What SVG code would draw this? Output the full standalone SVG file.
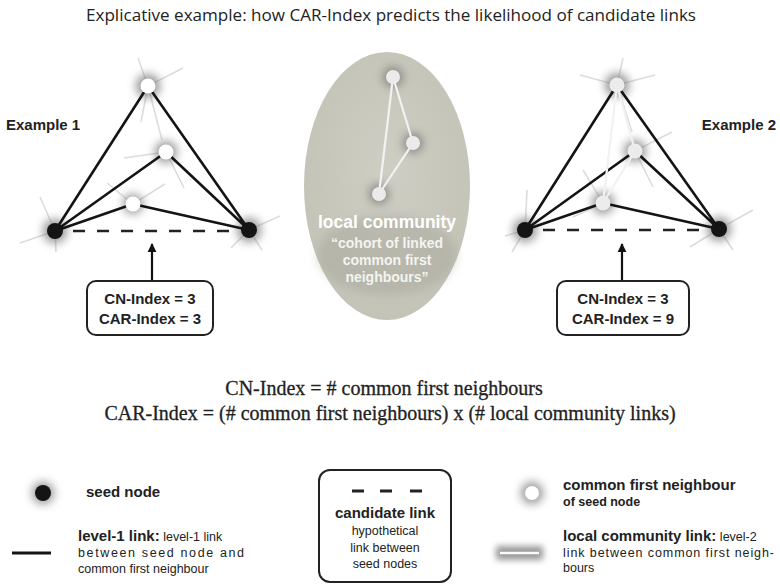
<svg xmlns="http://www.w3.org/2000/svg" width="780" height="585" viewBox="0 0 780 585">
<defs>
<filter id="blur" x="-100%" y="-100%" width="300%" height="300%"><feGaussianBlur stdDeviation="5"/></filter>
<filter id="blur2" x="-50%" y="-200%" width="200%" height="500%"><feGaussianBlur stdDeviation="3"/></filter>
<radialGradient id="ellg" cx="0.5" cy="0.45" r="0.6"><stop offset="0" stop-color="#cfcec4"/><stop offset="1" stop-color="#c3c2b6"/></radialGradient>
<marker id="arr" viewBox="0 0 10 10" refX="9" refY="5" markerWidth="4" markerHeight="5" orient="auto"><path d="M0,0 L10,5 L0,10 z" fill="#111"/></marker>
</defs>
<style>
.spoke{stroke:#dcdcdc;stroke-width:1.6;fill:none}
.l1{stroke:#141414;stroke-width:2.6;fill:none}
.l2{stroke:#f2f2f2;stroke-width:2.2;fill:none}
.cand{stroke:#222;stroke-width:2.6;stroke-dasharray:12,12;fill:none}
.glow{fill:#6a6a6a;opacity:0.7;filter:url(#blur)}
.seed{fill:#141414}
.cfn{fill:#ffffff}
.cfn2{fill:#ececec}
.lab{font-family:"Liberation Sans",Arial,sans-serif;font-weight:bold;fill:#222}
.txt{font-family:"Liberation Sans",Arial,sans-serif;fill:#222}
.box{fill:#fff;stroke:#222;stroke-width:2}
.ser{font-family:"Liberation Serif","Times New Roman",serif;fill:#222;stroke:#222;stroke-width:0.3}
</style>
<rect width="780" height="585" fill="#fff"/>
<text x="391" y="21" text-anchor="middle" font-family="'Open Sans','Liberation Sans',sans-serif" font-size="17" fill="#222" textLength="610" lengthAdjust="spacingAndGlyphs">Explicative example: how CAR-Index predicts the likelihood of candidate links</text>

<!-- Example 1 -->
<g id="ex1-spokes">
<path class="spoke" d="M148,86 L138,58 M148,86 L183,68 M148,86 L141,122 M148,86 L162,140 M166,152 L124,158 M166,152 L184,188 M133,204 L107,183 M133,204 L165,184 M55,231 L40,197 M55,231 L20,243 M55,231 L56,252 M249,230 L280,216 M249,230 L231,248 M249,230 L262,250"/>
</g>
<g id="ex1-glows">
<circle class="glow" cx="148" cy="86" r="12"/><circle class="glow" cx="166" cy="152" r="11"/><circle class="glow" cx="133" cy="204" r="10"/><circle class="glow" cx="55" cy="231" r="12"/><circle class="glow" cx="249" cy="230" r="12"/>
</g>
<g id="ex1-connectors">
<path class="l1" d="M55,231 L148,86 M55,231 L166,152 M55,231 L133,204 M249,230 L148,86 M249,230 L166,152 M249,230 L133,204"/>
<path class="cand" d="M73,231 L241,231"/>
<path d="M152,281 L152,244" stroke="#111" stroke-width="2.2" marker-end="url(#arr)"/>
</g>
<g id="ex1-seedL"><circle class="seed" cx="55" cy="231" r="8"/></g>
<g id="ex1-seedR"><circle class="seed" cx="249" cy="230" r="8"/></g>
<g id="ex1-n1"><circle class="cfn" cx="148" cy="86" r="7.5"/></g>
<g id="ex1-n2"><circle class="cfn" cx="166" cy="152" r="7.5"/></g>
<g id="ex1-n3"><circle class="cfn" cx="133" cy="204" r="7.5"/></g>
<g id="ex1-label"><text class="lab" x="6" y="130" font-size="15">Example 1</text></g>
<g id="ex1-box">
<rect class="box" x="87" y="281" width="126" height="54" rx="9"/>
<text class="lab" x="150" y="304" font-size="15" text-anchor="middle">CN-Index = 3</text>
<text class="lab" x="150" y="324" font-size="15" text-anchor="middle">CAR-Index = 3</text>
</g>

<!-- Center community -->
<g id="community">
<ellipse cx="387" cy="186" rx="83" ry="134" fill="url(#ellg)"/>
<circle class="glow" cx="393" cy="77" r="10" opacity="0.5"/><circle class="glow" cx="413" cy="143" r="10" opacity="0.5"/><circle class="glow" cx="379" cy="194" r="10" opacity="0.5"/>
<ellipse cx="387" cy="255" rx="70" ry="40" fill="#9a9a90" opacity="0.35" filter="url(#blur)"/>
<path class="l2" d="M393,77 L413,143 L379,194 Z"/>
<circle cx="393" cy="77" r="7" fill="#ebebeb"/>
<circle cx="413" cy="143" r="7" fill="#ebebeb"/>
<circle cx="379" cy="194" r="7" fill="#ebebeb"/>
<text x="387" y="228" text-anchor="middle" font-family="'Liberation Sans',Arial,sans-serif" font-weight="bold" font-size="17.5" fill="#fff">local community</text>
<text x="387" y="248" text-anchor="middle" font-family="'Liberation Sans',Arial,sans-serif" font-weight="bold" font-size="14" fill="#f4f4f0">“cohort of linked</text>
<text x="387" y="265" text-anchor="middle" font-family="'Liberation Sans',Arial,sans-serif" font-weight="bold" font-size="14" fill="#f4f4f0">common first</text>
<text x="387" y="282" text-anchor="middle" font-family="'Liberation Sans',Arial,sans-serif" font-weight="bold" font-size="14" fill="#f4f4f0">neighbours”</text>
</g>

<!-- Example 2 -->
<g id="ex2-spokes">
<path class="spoke" d="M617,85 L580,75 M617,85 L655,75 M617,85 L623,58 M617,85 L632,132 M635,151 L672,132 M635,151 L653,187 M603,203 L583,170 M603,203 L573,217 M525,230 L527,190 M525,230 L505,236 M525,230 L512,252 M719,229 L753,210 M719,229 L690,247 M719,229 L733,250"/>
</g>
<g id="ex2-glows">
<circle class="glow" cx="617" cy="85" r="12"/><circle class="glow" cx="635" cy="151" r="11"/><circle class="glow" cx="603" cy="203" r="11"/><circle class="glow" cx="525" cy="230" r="12"/><circle class="glow" cx="719" cy="229" r="12"/>
</g>
<g id="ex2-connectors">
<path class="l1" d="M525,230 L617,85 M525,230 L635,151 M525,230 L603,203 M719,229 L617,85 M719,229 L635,151 M719,229 L603,203"/>
<path class="l2" d="M617,85 L635,151 L603,203 Z"/>
<path class="cand" d="M543,230 L711,230"/>
<path d="M622,281 L622,244" stroke="#111" stroke-width="2.2" marker-end="url(#arr)"/>
</g>
<g id="ex2-seedL"><circle class="seed" cx="525" cy="230" r="8"/></g>
<g id="ex2-seedR"><circle class="seed" cx="719" cy="229" r="8"/></g>
<g id="ex2-n1"><circle class="cfn2" cx="617" cy="85" r="7.5"/></g>
<g id="ex2-n2"><circle class="cfn2" cx="635" cy="151" r="7.5"/></g>
<g id="ex2-n3"><circle class="cfn2" cx="603" cy="203" r="7.5"/></g>
<g id="ex2-label"><text class="lab" x="776" y="130" font-size="15" text-anchor="end">Example 2</text></g>
<g id="ex2-box">
<rect class="box" x="557" y="281" width="132" height="54" rx="9"/>
<text class="lab" x="623" y="304" font-size="15" text-anchor="middle">CN-Index = 3</text>
<text class="lab" x="623" y="324" font-size="15" text-anchor="middle">CAR-Index = 9</text>
</g>

<!-- Formulas -->
<g id="formulas">
<text class="ser" x="384" y="395" font-size="20" text-anchor="middle">CN-Index = # common first neighbours</text>
<text class="ser" x="390" y="420" font-size="20" text-anchor="middle">CAR-Index = (# common first neighbours) x (# local community links)</text>
</g>

<!-- Legend -->
<g id="legend-seed">
<circle class="glow" cx="43" cy="493" r="11"/>
<circle class="seed" cx="43" cy="493" r="8"/>
<text class="lab" x="86" y="497" font-size="15">seed node</text>
</g>
<g id="legend-level1">
<line x1="12" y1="553" x2="51" y2="553" stroke="#141414" stroke-width="3"/>
<text x="78" y="541" class="txt" font-size="12.5"><tspan font-weight="bold" font-size="15">level-1 link:</tspan> level-1 link</text>
<text x="78" y="557" class="txt" font-size="12.5" textLength="166" lengthAdjust="spacing">between seed node and</text>
<text x="78" y="573" class="txt" font-size="12.5">common first neighbour</text>
</g>
<g id="legend-candidate">
<rect class="box" x="319" y="470" width="132" height="112" rx="11"/>
<path d="M352,491 L364,491 M380,491 L392,491 M410,491 L422,491" stroke="#222" stroke-width="3"/>
<text class="lab" x="385" y="518" font-size="15" text-anchor="middle">candidate link</text>
<text class="txt" x="385" y="535" font-size="12.5" text-anchor="middle">hypothetical</text>
<text class="txt" x="385" y="552" font-size="12.5" text-anchor="middle">link between</text>
<text class="txt" x="385" y="568" font-size="12.5" text-anchor="middle">seed nodes</text>
</g>
<g id="legend-cfn">
<circle class="glow" cx="532" cy="493" r="11"/>
<circle class="cfn" cx="532" cy="493" r="7"/>
<text class="lab" x="563" y="490" font-size="15">common first neighbour</text>
<text class="lab" x="563" y="506" font-size="12.5">of seed node</text>
</g>
<g id="legend-level2">
<rect x="496" y="546" width="47" height="14" fill="#808080" opacity="0.8" filter="url(#blur2)"/>
<line x1="500" y1="553" x2="539" y2="553" stroke="#fafafa" stroke-width="2.5"/>
<text x="563" y="541" class="txt" font-size="12.5"><tspan font-weight="bold" font-size="15">local community link:</tspan> level-2</text>
<text x="563" y="557" class="txt" font-size="12.5" textLength="211" lengthAdjust="spacing">link between common first neigh-</text>
<text x="563" y="572" class="txt" font-size="12.5">bours</text>
</g>
</svg>
